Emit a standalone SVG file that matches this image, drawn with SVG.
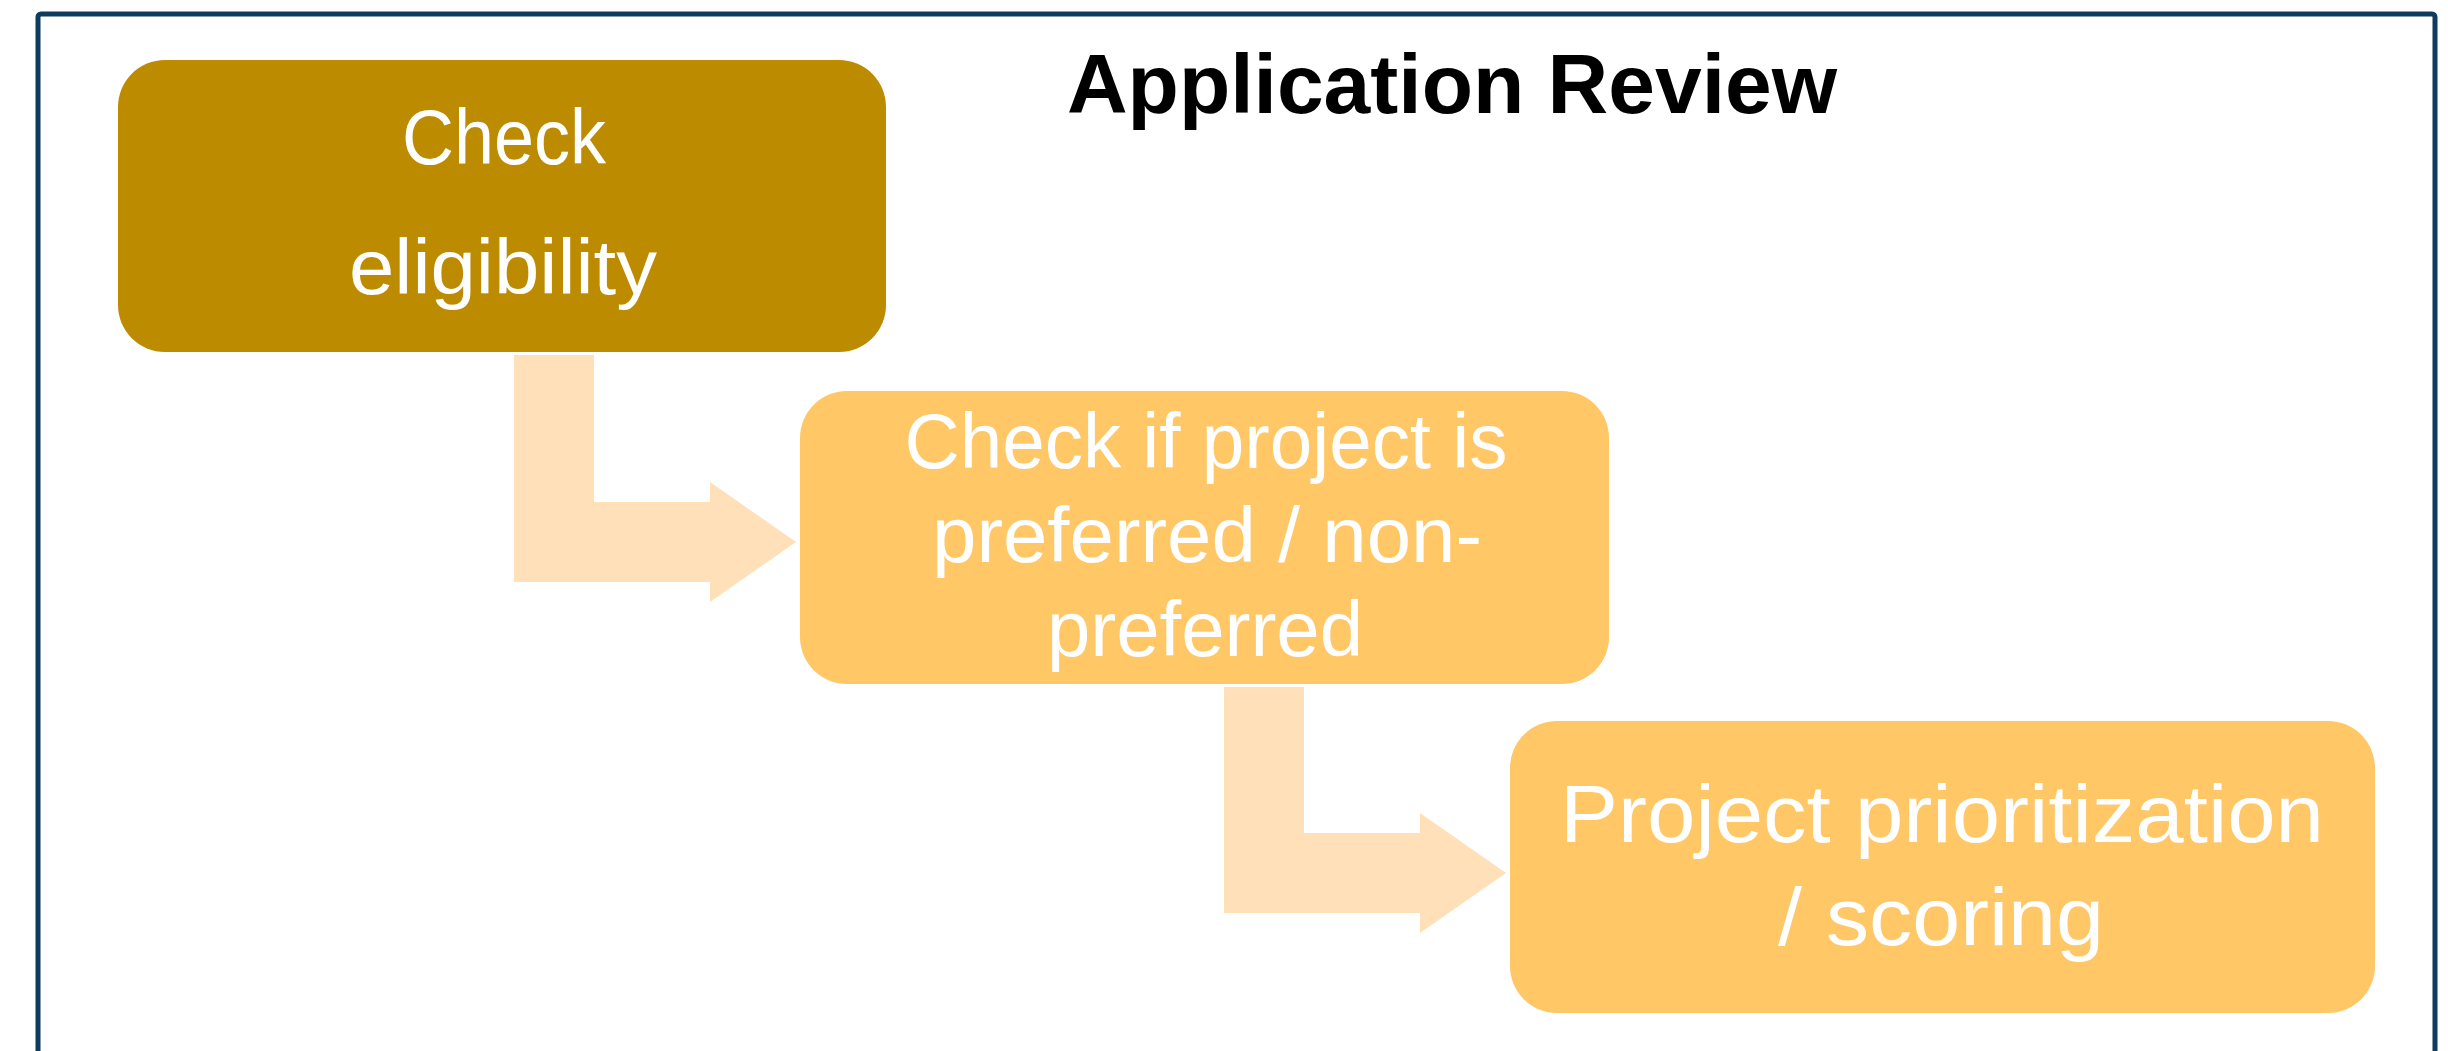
<svg xmlns="http://www.w3.org/2000/svg" width="2448" height="1051" viewBox="0 0 2448 1051">
  <style>
    .frame { fill: #ffffff; stroke: #0F3B5F; stroke-width: 5; }
    .title { font-family: "Liberation Sans", Arial, sans-serif; font-weight: bold; font-size: 84px; fill: #000000; text-anchor: middle; }
    .lbl { font-family: "Liberation Sans", Arial, sans-serif; font-size: 77px; fill: #ffffff; text-anchor: middle; }
    .lbl3 { font-family: "Liberation Sans", Arial, sans-serif; font-size: 82px; fill: #ffffff; text-anchor: middle; }
    .dark { fill: #BC8B00; }
    .light { fill: #FFC766; }
    .arrow { fill: #FFE0B9; }
  </style>
  <rect x="0" y="0" width="2448" height="1051" fill="#ffffff"/>
  <rect class="frame" x="38" y="14" width="2397" height="1100" rx="3"/>
  <text class="title" x="1452" y="113">Application Review</text>

  <g id="connectors">
    <polygon class="arrow" points="514,355 594,355 594,502 710,502 710,482 796,542 710,602 710,582 514,582"/>
    <polygon class="arrow" points="1224,687 1304,687 1304,833 1420,833 1420,813 1506,873 1420,933 1420,913 1224,913"/>
  </g>

  <g id="node-check-eligibility">
    <rect class="dark" x="118" y="60" width="768" height="292" rx="47"/>
    <text class="lbl" x="504" y="164" textLength="204" lengthAdjust="spacingAndGlyphs">Check</text>
    <text class="lbl" x="503" y="294" textLength="308" lengthAdjust="spacingAndGlyphs">eligibility</text>
  </g>

  <g id="node-check-preferred">
    <rect class="light" x="800" y="391" width="809" height="293" rx="47"/>
    <text class="lbl" x="1206" y="468" textLength="603" lengthAdjust="spacingAndGlyphs">Check if project is</text>
    <text class="lbl" x="1207" y="562" textLength="550" lengthAdjust="spacingAndGlyphs">preferred / non-</text>
    <text class="lbl" x="1205" y="656" textLength="316" lengthAdjust="spacingAndGlyphs">preferred</text>
  </g>

  <g id="node-prioritization">
    <rect class="light" x="1510" y="721" width="865" height="292" rx="47"/>
    <text class="lbl3" x="1942" y="842" textLength="764" lengthAdjust="spacingAndGlyphs">Project prioritization</text>
    <text class="lbl3" x="1941" y="945" textLength="326" lengthAdjust="spacingAndGlyphs">/ scoring</text>
  </g>
</svg>
